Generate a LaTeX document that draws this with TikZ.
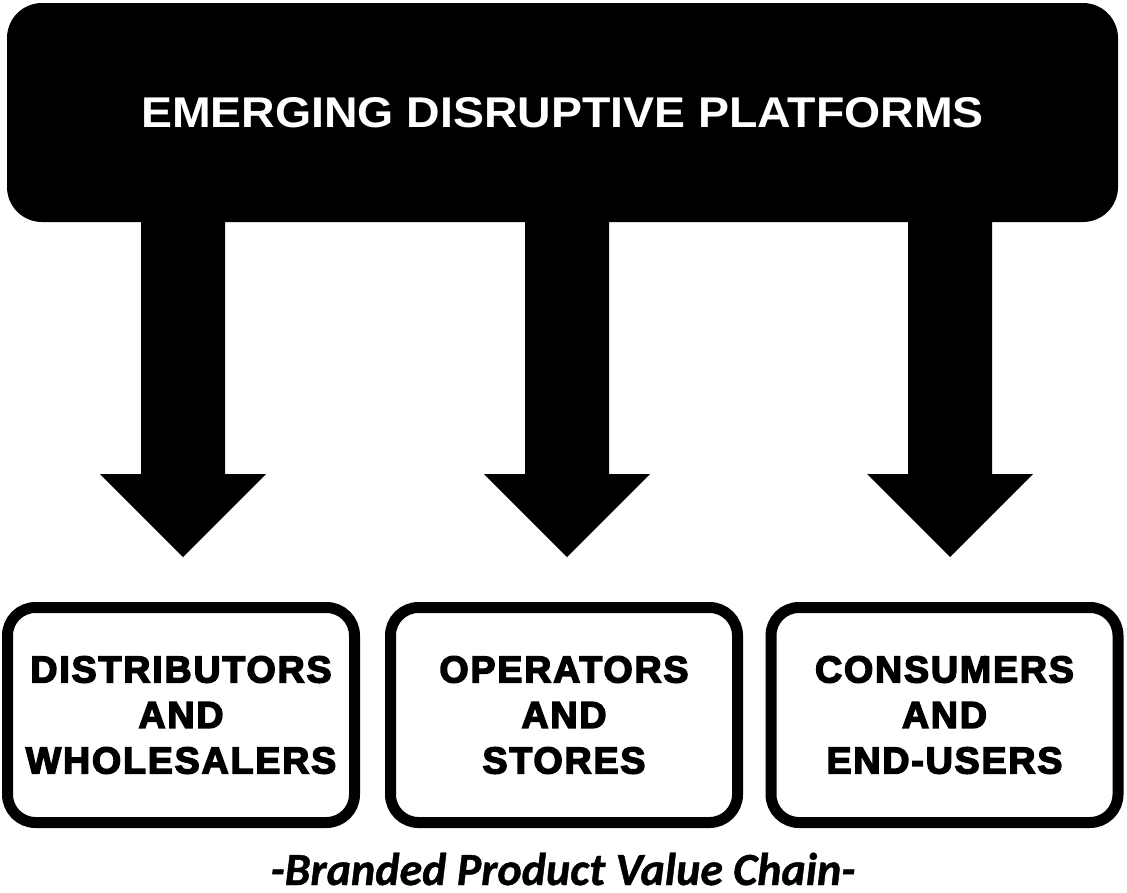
\documentclass[tikz,border=0pt]{standalone}
\usepackage{fontspec}
\setmainfont{Liberation Sans}
\newfontfamily\titlefont{Liberation Sans Bold}
\newfontfamily\heavyfont[FakeBold=4,LetterSpace=5]{Liberation Sans Bold}
\newfontfamily\capfont[FakeBold=1]{Carlito Bold Italic}
\begin{document}
\begin{tikzpicture}[x=1pt,y=-1pt,
  topbox/.style={fill=black, rounded corners=35pt, minimum width=1111pt, minimum height=219pt, inner sep=0pt,
     text=white, font=\titlefont\fontsize{43}{50}\selectfont},
  valuebox/.style={draw=black, line width=11pt, rounded corners=28pt, fill=white, inner sep=0pt,
     minimum width=347pt, minimum height=215pt, align=center,
     font=\heavyfont\fontsize{37.5}{45.5}\selectfont},
  blockarrow/.style={fill=black},
  caption/.style={font=\capfont\fontsize{46}{50}\selectfont, anchor=base, inner sep=0pt}
]
\useasboundingbox (0,0) rectangle (1127,892);
\node[topbox] (top) at (562.5,112.5) {\scalebox{1.08}[1]{EMERGING DISRUPTIVE PLATFORMS}};

\node[valuebox] (dist) at (181,715) {DISTRIBUTORS\\AND\\WHOLESALERS};
\node[valuebox] (oper) at (564,715) {OPERATORS\\AND\\STORES};
\node[valuebox] (cons) at (944.5,715) {CONSUMERS\\AND\\END-USERS};

\coordinate (t1) at (183,557);
\coordinate (t2) at (567,557);
\coordinate (t3) at (950,557);
\foreach \t in {t1,t2,t3}{
  \fill[blockarrow] (\t) ++(-42,-340) -- ++(84,0) -- ++(0,257) -- ++(41,0) -- (\t) -- ++(-83,-83) -- ++(41,0) -- cycle;
}

\node[caption] (cap) at (563,885) {-Branded Product Value Chain-};
\end{tikzpicture}
\end{document}
